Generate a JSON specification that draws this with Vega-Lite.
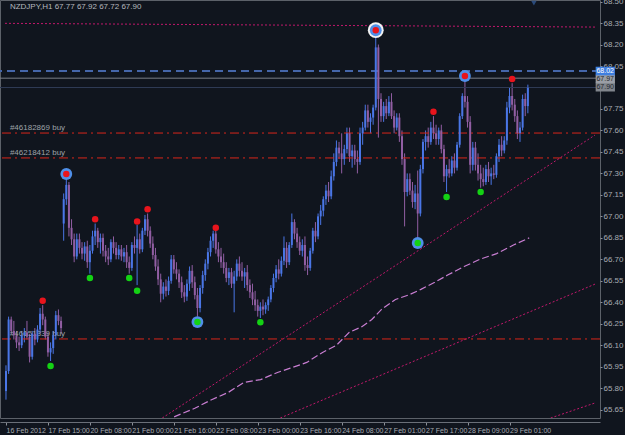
{
"$schema":"https://vega.github.io/schema/vega-lite/v6.json",
"width":600,"height":418,
"autosize":{"type":"none"},
"padding":{"left":0,"top":0,"right":25,"bottom":17},
"background":"#10151e",
"config":{"view":{"stroke":"#5c6169","strokeWidth":1,"fill":"#10151e"},"font":"Liberation Sans","text":{"font":"Liberation Sans"}},
"datasets":{
"bars":[
{"i":0,"o":65.78,"h":65.96,"l":65.72,"c":65.92},{"i":1,"o":65.92,"h":66.30,"l":65.90,"c":66.28},{"i":2,"o":66.28,"h":66.30,"l":66.18,"c":66.20},{"i":3,"o":66.20,"h":66.27,"l":66.14,"c":66.17},{"i":4,"o":66.17,"h":66.20,"l":66.08,"c":66.12},{"i":5,"o":66.12,"h":66.16,"l":66.06,"c":66.10},{"i":6,"o":66.10,"h":66.20,"l":66.08,"c":66.17},{"i":7,"o":66.17,"h":66.22,"l":66.12,"c":66.19},{"i":8,"o":66.19,"h":66.27,"l":66.14,"c":66.16},{"i":9,"o":66.16,"h":66.18,"l":65.98,"c":66.02},
{"i":10,"o":66.02,"h":66.20,"l":66.00,"c":66.18},{"i":11,"o":66.18,"h":66.22,"l":66.10,"c":66.14},{"i":12,"o":66.14,"h":66.24,"l":66.12,"c":66.21},{"i":13,"o":66.21,"h":66.36,"l":66.18,"c":66.32},{"i":14,"o":66.32,"h":66.38,"l":66.24,"c":66.28},{"i":15,"o":66.28,"h":66.30,"l":66.14,"c":66.16},{"i":16,"o":66.16,"h":66.19,"l":66.02,"c":66.05},{"i":17,"o":66.05,"h":66.12,"l":65.99,"c":66.08},{"i":18,"o":66.08,"h":66.20,"l":66.04,"c":66.17},{"i":19,"o":66.17,"h":66.34,"l":66.14,"c":66.31},
{"i":20,"o":66.31,"h":66.35,"l":66.24,"c":66.27},{"i":21,"o":66.27,"h":66.30,"l":66.18,"c":66.22},{"i":22,"o":66.95,"h":67.16,"l":66.83,"c":67.12},{"i":23,"o":67.12,"h":67.27,"l":67.08,"c":67.22},{"i":24,"o":67.22,"h":67.24,"l":66.86,"c":66.92},{"i":25,"o":66.92,"h":66.98,"l":66.80,"c":66.84},{"i":26,"o":66.84,"h":66.88,"l":66.68,"c":66.72},{"i":27,"o":66.72,"h":66.88,"l":66.70,"c":66.84},{"i":28,"o":66.84,"h":66.88,"l":66.74,"c":66.78},{"i":29,"o":66.78,"h":66.82,"l":66.70,"c":66.74},
{"i":30,"o":66.74,"h":66.82,"l":66.69,"c":66.79},{"i":31,"o":66.79,"h":66.83,"l":66.64,"c":66.68},{"i":32,"o":66.68,"h":66.80,"l":66.60,"c":66.76},{"i":33,"o":66.76,"h":66.90,"l":66.74,"c":66.86},{"i":34,"o":66.86,"h":66.95,"l":66.80,"c":66.90},{"i":35,"o":66.90,"h":66.92,"l":66.78,"c":66.82},{"i":36,"o":66.82,"h":66.88,"l":66.74,"c":66.85},{"i":37,"o":66.85,"h":66.88,"l":66.72,"c":66.76},{"i":38,"o":66.76,"h":66.80,"l":66.68,"c":66.72},{"i":39,"o":66.72,"h":66.78,"l":66.66,"c":66.70},
{"i":40,"o":66.70,"h":66.84,"l":66.68,"c":66.82},{"i":41,"o":66.82,"h":66.86,"l":66.74,"c":66.78},{"i":42,"o":66.78,"h":66.82,"l":66.70,"c":66.73},{"i":43,"o":66.73,"h":66.80,"l":66.70,"c":66.77},{"i":44,"o":66.77,"h":66.80,"l":66.69,"c":66.72},{"i":45,"o":66.72,"h":66.78,"l":66.68,"c":66.75},{"i":46,"o":66.75,"h":66.80,"l":66.64,"c":66.68},{"i":47,"o":66.68,"h":66.72,"l":66.60,"c":66.64},{"i":48,"o":66.64,"h":66.82,"l":66.62,"c":66.80},{"i":49,"o":66.80,"h":66.86,"l":66.74,"c":66.78},
{"i":50,"o":66.78,"h":66.94,"l":66.52,"c":66.84},{"i":51,"o":66.84,"h":66.88,"l":66.74,"c":66.77},{"i":52,"o":66.77,"h":66.92,"l":66.75,"c":66.90},{"i":53,"o":66.90,"h":67.01,"l":66.87,"c":66.98},{"i":54,"o":66.98,"h":67.02,"l":66.86,"c":66.90},{"i":55,"o":66.90,"h":66.93,"l":66.78,"c":66.81},{"i":56,"o":66.81,"h":66.86,"l":66.70,"c":66.73},{"i":57,"o":66.73,"h":66.78,"l":66.62,"c":66.65},{"i":58,"o":66.65,"h":66.70,"l":66.52,"c":66.56},{"i":59,"o":66.56,"h":66.60,"l":66.40,"c":66.46},
{"i":60,"o":66.46,"h":66.54,"l":66.42,"c":66.51},{"i":61,"o":66.51,"h":66.56,"l":66.44,"c":66.48},{"i":62,"o":66.48,"h":66.58,"l":66.45,"c":66.55},{"i":63,"o":66.55,"h":66.73,"l":66.53,"c":66.70},{"i":64,"o":66.70,"h":66.73,"l":66.60,"c":66.63},{"i":65,"o":66.63,"h":66.68,"l":66.56,"c":66.60},{"i":66,"o":66.60,"h":66.63,"l":66.50,"c":66.54},{"i":67,"o":66.54,"h":66.58,"l":66.43,"c":66.47},{"i":68,"o":66.47,"h":66.52,"l":66.40,"c":66.44},{"i":69,"o":66.44,"h":66.56,"l":66.41,"c":66.53},
{"i":70,"o":66.53,"h":66.65,"l":66.48,"c":66.62},{"i":71,"o":66.62,"h":66.66,"l":66.50,"c":66.54},{"i":72,"o":66.54,"h":66.58,"l":66.42,"c":66.45},{"i":73,"o":66.45,"h":66.50,"l":66.30,"c":66.36},{"i":74,"o":66.36,"h":66.52,"l":66.33,"c":66.50},{"i":75,"o":66.50,"h":66.62,"l":66.46,"c":66.59},{"i":76,"o":66.59,"h":66.70,"l":66.55,"c":66.67},{"i":77,"o":66.67,"h":66.78,"l":66.63,"c":66.75},{"i":78,"o":66.75,"h":66.86,"l":66.72,"c":66.83},{"i":79,"o":66.83,"h":66.90,"l":66.78,"c":66.88},
{"i":80,"o":66.88,"h":66.91,"l":66.74,"c":66.77},{"i":81,"o":66.77,"h":66.82,"l":66.68,"c":66.72},{"i":82,"o":66.72,"h":66.78,"l":66.64,"c":66.68},{"i":83,"o":66.68,"h":66.74,"l":66.60,"c":66.64},{"i":84,"o":66.64,"h":66.68,"l":66.54,"c":66.57},{"i":85,"o":66.57,"h":66.64,"l":66.52,"c":66.61},{"i":86,"o":66.61,"h":66.64,"l":66.50,"c":66.53},{"i":87,"o":66.53,"h":66.62,"l":66.33,"c":66.58},{"i":88,"o":66.58,"h":66.70,"l":66.55,"c":66.67},{"i":89,"o":66.67,"h":66.72,"l":66.58,"c":66.62},
{"i":90,"o":66.62,"h":66.68,"l":66.55,"c":66.58},{"i":91,"o":66.58,"h":66.64,"l":66.50,"c":66.61},{"i":92,"o":66.61,"h":66.66,"l":66.48,"c":66.52},{"i":93,"o":66.52,"h":66.56,"l":66.43,"c":66.47},{"i":94,"o":66.47,"h":66.53,"l":66.38,"c":66.42},{"i":95,"o":66.42,"h":66.48,"l":66.34,"c":66.38},{"i":96,"o":66.38,"h":66.42,"l":66.30,"c":66.34},{"i":97,"o":66.34,"h":66.40,"l":66.29,"c":66.37},{"i":98,"o":66.37,"h":66.42,"l":66.31,"c":66.35},{"i":99,"o":66.35,"h":66.40,"l":66.32,"c":66.38},
{"i":100,"o":66.38,"h":66.44,"l":66.34,"c":66.42},{"i":101,"o":66.42,"h":66.52,"l":66.40,"c":66.50},{"i":102,"o":66.50,"h":66.60,"l":66.47,"c":66.57},{"i":103,"o":66.57,"h":66.66,"l":66.54,"c":66.63},{"i":104,"o":66.63,"h":66.70,"l":66.56,"c":66.60},{"i":105,"o":66.60,"h":66.72,"l":66.58,"c":66.69},{"i":106,"o":66.69,"h":66.86,"l":66.66,"c":66.78},{"i":107,"o":66.78,"h":66.82,"l":66.64,"c":66.68},{"i":108,"o":66.68,"h":66.82,"l":66.66,"c":66.80},{"i":109,"o":66.80,"h":67.02,"l":66.78,"c":66.96},
{"i":110,"o":66.96,"h":66.98,"l":66.84,"c":66.88},{"i":111,"o":66.88,"h":66.92,"l":66.78,"c":66.82},{"i":112,"o":66.82,"h":66.86,"l":66.73,"c":66.76},{"i":113,"o":66.76,"h":66.84,"l":66.72,"c":66.80},{"i":114,"o":66.80,"h":66.86,"l":66.62,"c":66.66},{"i":115,"o":66.66,"h":66.72,"l":66.59,"c":66.64},{"i":116,"o":66.64,"h":66.78,"l":66.62,"c":66.76},{"i":117,"o":66.76,"h":66.92,"l":66.74,"c":66.90},{"i":118,"o":66.90,"h":66.96,"l":66.82,"c":66.86},{"i":119,"o":66.86,"h":67.02,"l":66.84,"c":67.00},
{"i":120,"o":67.00,"h":67.08,"l":66.94,"c":67.04},{"i":121,"o":67.04,"h":67.14,"l":67.00,"c":67.12},{"i":122,"o":67.12,"h":67.22,"l":67.08,"c":67.18},{"i":123,"o":67.18,"h":67.24,"l":67.10,"c":67.14},{"i":124,"o":67.14,"h":67.32,"l":67.12,"c":67.28},{"i":125,"o":67.28,"h":67.44,"l":67.25,"c":67.38},{"i":126,"o":67.38,"h":67.53,"l":67.35,"c":67.48},{"i":127,"o":67.48,"h":67.52,"l":67.40,"c":67.44},{"i":128,"o":67.44,"h":67.58,"l":67.30,"c":67.40},{"i":129,"o":67.40,"h":67.50,"l":67.36,"c":67.47},
{"i":130,"o":67.47,"h":67.62,"l":67.44,"c":67.58},{"i":131,"o":67.58,"h":67.62,"l":67.38,"c":67.42},{"i":132,"o":67.42,"h":67.50,"l":67.34,"c":67.46},{"i":133,"o":67.46,"h":67.50,"l":67.36,"c":67.40},{"i":134,"o":67.40,"h":67.46,"l":67.30,"c":67.38},{"i":135,"o":67.38,"h":67.62,"l":67.36,"c":67.58},{"i":136,"o":67.58,"h":67.66,"l":67.50,"c":67.62},{"i":137,"o":67.62,"h":67.78,"l":67.60,"c":67.74},{"i":138,"o":67.74,"h":67.78,"l":67.62,"c":67.66},{"i":139,"o":67.66,"h":67.72,"l":67.58,"c":67.69},
{"i":140,"o":67.69,"h":67.78,"l":67.64,"c":67.76},{"i":141,"o":67.76,"h":68.27,"l":67.74,"c":68.18},{"i":142,"o":68.18,"h":68.20,"l":67.55,"c":67.82},{"i":143,"o":67.82,"h":67.86,"l":67.66,"c":67.70},{"i":144,"o":67.70,"h":67.80,"l":67.66,"c":67.77},{"i":145,"o":67.77,"h":67.82,"l":67.68,"c":67.72},{"i":146,"o":67.72,"h":67.84,"l":67.70,"c":67.80},{"i":147,"o":67.80,"h":67.86,"l":67.68,"c":67.70},{"i":148,"o":67.70,"h":67.74,"l":67.58,"c":67.62},{"i":149,"o":67.62,"h":67.72,"l":67.60,"c":67.69},
{"i":150,"o":67.69,"h":67.72,"l":67.52,"c":67.56},{"i":151,"o":67.56,"h":67.60,"l":67.36,"c":67.40},{"i":152,"o":67.40,"h":67.44,"l":66.93,"c":67.17},{"i":153,"o":67.17,"h":67.30,"l":67.14,"c":67.26},{"i":154,"o":67.26,"h":67.30,"l":67.15,"c":67.18},{"i":155,"o":67.18,"h":67.24,"l":67.06,"c":67.10},{"i":156,"o":67.10,"h":67.22,"l":67.05,"c":67.16},{"i":157,"o":67.16,"h":67.32,"l":66.84,"c":67.02},{"i":158,"o":67.02,"h":67.36,"l":67.00,"c":67.33},{"i":159,"o":67.33,"h":67.54,"l":67.30,"c":67.52},
{"i":160,"o":67.52,"h":67.60,"l":67.46,"c":67.56},{"i":161,"o":67.56,"h":67.62,"l":67.48,"c":67.52},{"i":162,"o":67.52,"h":67.66,"l":67.50,"c":67.62},{"i":163,"o":67.62,"h":67.70,"l":67.54,"c":67.58},{"i":164,"o":67.58,"h":67.64,"l":67.50,"c":67.54},{"i":165,"o":67.54,"h":67.62,"l":67.50,"c":67.60},{"i":166,"o":67.60,"h":67.64,"l":67.44,"c":67.47},{"i":167,"o":67.47,"h":67.50,"l":67.24,"c":67.28},{"i":168,"o":67.28,"h":67.36,"l":67.17,"c":67.33},{"i":169,"o":67.33,"h":67.40,"l":67.27,"c":67.30},
{"i":170,"o":67.30,"h":67.42,"l":67.28,"c":67.39},{"i":171,"o":67.39,"h":67.44,"l":67.30,"c":67.34},{"i":172,"o":67.34,"h":67.52,"l":67.32,"c":67.50},{"i":173,"o":67.50,"h":67.72,"l":67.48,"c":67.70},{"i":174,"o":67.70,"h":67.86,"l":67.68,"c":67.84},{"i":175,"o":67.84,"h":67.95,"l":67.76,"c":67.80},{"i":176,"o":67.80,"h":67.84,"l":67.62,"c":67.66},{"i":177,"o":67.66,"h":67.70,"l":67.30,"c":67.36},{"i":178,"o":67.36,"h":67.52,"l":67.32,"c":67.48},{"i":179,"o":67.48,"h":67.52,"l":67.32,"c":67.36},
{"i":180,"o":67.36,"h":67.44,"l":67.25,"c":67.30},{"i":181,"o":67.30,"h":67.36,"l":67.20,"c":67.26},{"i":182,"o":67.26,"h":67.34,"l":67.21,"c":67.24},{"i":183,"o":67.24,"h":67.36,"l":67.22,"c":67.33},{"i":184,"o":67.33,"h":67.38,"l":67.24,"c":67.28},{"i":185,"o":67.28,"h":67.34,"l":67.22,"c":67.30},{"i":186,"o":67.30,"h":67.36,"l":67.26,"c":67.29},{"i":187,"o":67.29,"h":67.44,"l":67.27,"c":67.42},{"i":188,"o":67.42,"h":67.54,"l":67.38,"c":67.50},{"i":189,"o":67.50,"h":67.56,"l":67.42,"c":67.46},
{"i":190,"o":67.46,"h":67.56,"l":67.44,"c":67.53},{"i":191,"o":67.53,"h":67.80,"l":67.50,"c":67.76},{"i":192,"o":67.76,"h":67.90,"l":67.72,"c":67.84},{"i":193,"o":67.84,"h":67.93,"l":67.74,"c":67.78},{"i":194,"o":67.78,"h":67.82,"l":67.66,"c":67.70},{"i":195,"o":67.70,"h":67.74,"l":67.54,"c":67.58},{"i":196,"o":67.58,"h":67.66,"l":67.52,"c":67.62},{"i":197,"o":67.62,"h":67.85,"l":67.60,"c":67.82},{"i":198,"o":67.82,"h":67.86,"l":67.70,"c":67.77},{"i":199,"o":67.77,"h":67.92,"l":67.72,"c":67.90}
],
"trend":[
{"id":"top","i":-0.375,"p":68.348},{"id":"top","i":224.6,"p":68.322},
{"id":"d1","i":59.6,"p":65.592},{"id":"d1","i":224.6,"p":67.568},
{"id":"d2","i":104.6,"p":65.592},{"id":"d2","i":224.6,"p":66.527},
{"id":"d3","i":207.7,"p":65.592},{"id":"d3","i":224.6,"p":65.697}
],
"ma":[
{"i":64.1,"p":65.60},{"i":72.0,"p":65.66},{"i":78.4,"p":65.72},{"i":84.7,"p":65.77},{"i":90.7,"p":65.84},{"i":97.1,"p":65.86},{"i":103.5,"p":65.91},{"i":108.4,"p":65.94},{"i":114.7,"p":65.98},{"i":120.7,"p":66.05},{"i":126.0,"p":66.10},{"i":130.9,"p":66.19},{"i":135.7,"p":66.23},{"i":139.5,"p":66.28},{"i":143.2,"p":66.35},{"i":148.5,"p":66.42},{"i":153.4,"p":66.45},{"i":158.2,"p":66.49},{"i":163.5,"p":66.54},{"i":168.4,"p":66.59},{"i":174.7,"p":66.65},{"i":180.7,"p":66.70},{"i":187.1,"p":66.74},{"i":193.5,"p":66.80},{"i":199.5,"p":66.85}
],
"orders":[
{"p":67.582,"label":"#46182869 buy"},{"p":67.408,"label":"#46218412 buy"},{"p":66.144,"label":"#46151339 buy"}
],
"rings":[
{"i":23,"p":67.296},{"i":73,"p":66.262},{"i":141,"p":68.30},{"i":157,"p":66.814},{"i":175,"p":67.98}
],
"dots":[
{"i":23,"p":67.296,"s":"r"},{"i":73,"p":66.262,"s":"g"},{"i":141,"p":68.30,"s":"r"},{"i":157,"p":66.814,"s":"g"},{"i":175,"p":67.98,"s":"r"},
{"i":14,"p":66.41,"s":"r"},{"i":34,"p":66.98,"s":"r"},{"i":50,"p":66.965,"s":"r"},{"i":54,"p":67.05,"s":"r"},{"i":80,"p":66.92,"s":"r"},{"i":163,"p":67.73,"s":"r"},{"i":193,"p":67.96,"s":"r"},
{"i":17,"p":65.955,"s":"g"},{"i":32,"p":66.57,"s":"g"},{"i":47,"p":66.57,"s":"g"},{"i":50,"p":66.48,"s":"g"},{"i":97,"p":66.26,"s":"g"},{"i":168,"p":67.135,"s":"g"},{"i":181,"p":67.17,"s":"g"}
],
"boxes":[
{"p1":67.935,"p2":67.872,"pc":67.903,"label":"67.90","k":"c"},
{"p1":67.99,"p2":67.93,"pc":67.958,"label":"67.97","k":"b"},
{"p1":68.045,"p2":67.985,"pc":68.015,"label":"68.02","k":"a"}
]
},
"encoding":{
 "x":{"type":"quantitative","scale":{"domain":[-0.375,224.6],"nice":false,"zero":false},
  "axis":{"values":[0,16,32,48,64,80,96,112,128,144,160,176,192],
   "labelExpr":"['16 Feb 2012','17 Feb 15:00','20 Feb 08:00','21 Feb 00:00','21 Feb 16:00','22 Feb 08:00','23 Feb 00:00','23 Feb 16:00','24 Feb 08:00','27 Feb 01:00','27 Feb 17:00','28 Feb 09:00','29 Feb 01:00'][round(datum.value/16)]",
   "labelAlign":"left","labelColor":"#a8acb2","labelFontSize":7,"labelFont":"Liberation Sans","tickColor":"#8a8f96","tickSize":3,"domainColor":"#6a6f78","offset":4,"grid":false,"title":null,"labelPadding":1,"labelFlush":false,"labelOverlap":false,"labelBound":false,"zindex":0}},
 "y":{"type":"quantitative","scale":{"domain":[65.592,68.511],"nice":false,"zero":false},
  "axis":{"orient":"right","values":[65.65,65.8,65.95,66.1,66.25,66.4,66.55,66.7,66.85,67,67.15,67.3,67.45,67.6,67.75,68.05,68.2,68.35,68.5],"format":".2f","labelColor":"#a8acb2","labelFontSize":8,"labelFont":"Liberation Sans","tickSize":2,"tickColor":"#8a8f96","domain":false,"grid":false,"title":null,"labelPadding":1,"labelBound":false,"labelFlush":false,"labelOverlap":false,"zindex":0}}
},
"layer":[
{"data":{"name":"bars"},"mark":{"type":"rule","strokeWidth":1,"clip":true},
 "encoding":{
  "x":{"field":"i"},
  "y":{"field":"l"},
  "y2":{"field":"h"},
  "color":{"condition":{"test":"datum.c >= datum.o","value":"#4a76e6"},"value":"#915ea3"}
 }},
{"data":{"values":[{"p":68.015}]},"mark":{"type":"rule","color":"#4566aa","strokeWidth":2,"strokeDash":[8,5]},
 "encoding":{"y":{"field":"p"}}},
{"data":{"values":[{"p":67.965}]},"mark":{"type":"rule","color":"#7a7f88","strokeWidth":1},
 "encoding":{"y":{"field":"p"}}},
{"data":{"values":[{"p":67.900}]},"mark":{"type":"rule","color":"#2f3b55","strokeWidth":1},
 "encoding":{"y":{"field":"p"}}},
{"data":{"name":"orders"},"mark":{"type":"rule","color":"#d8261a","strokeWidth":1,"strokeDash":[9,4,2,4]},
 "encoding":{"y":{"field":"p"}}},
{"data":{"name":"orders"},"mark":{"type":"text","align":"left","baseline":"bottom","dy":-1,"fontSize":8,"color":"#9ea2a8"},
 "encoding":{"x":{"datum":1.5},"y":{"field":"p"},"text":{"field":"label"}}},
{"data":{"name":"trend"},"mark":{"type":"line","color":"#c2186c","strokeWidth":1,"strokeDash":[2,2],"clip":true},
 "encoding":{"x":{"field":"i"},"y":{"field":"p"},"detail":{"field":"id"}}},
{"data":{"name":"ma"},"mark":{"type":"line","color":"#c97ed2","strokeWidth":1.2,"strokeDash":[7,3],"clip":true},
 "encoding":{"x":{"field":"i"},"y":{"field":"p"}}},
{"data":{"name":"bars"},"mark":{"type":"bar","size":2,"clip":true},
 "encoding":{"x":{"field":"i"},"y":{"field":"o"},"y2":{"field":"c"},
  "color":{"condition":{"test":"datum.c >= datum.o","value":"#4a76e6"},"value":"#915ea3"}}},
{"data":{"values":[{"i":141,"p":68.30}]},"mark":{"type":"point","shape":"circle","filled":true,"size":250,"color":"#f2f2f2","opacity":1},
 "encoding":{"x":{"field":"i"},"y":{"field":"p"}}},
{"data":{"name":"rings"},"mark":{"type":"point","shape":"circle","filled":true,"size":140,"color":"#4f8fe8","opacity":1},
 "encoding":{"x":{"field":"i"},"y":{"field":"p"}}},
{"data":{"name":"dots"},"mark":{"type":"point","shape":"circle","filled":true,"size":42,"opacity":1},
 "encoding":{"x":{"field":"i"},"y":{"field":"p"},
  "color":{"condition":{"test":"datum.s == 'r'","value":"#e8141c"},"value":"#14d214"}}},
{"data":{"values":[{"i":201.3,"p":68.49}]},"mark":{"type":"point","shape":"triangle-down","filled":true,"size":30,"color":"#2a4a7a","opacity":1},
 "encoding":{"x":{"field":"i"},"y":{"field":"p"}}},
{"data":{"values":[{"t":"NZDJPY,H1  67.77 67.92 67.72 67.90"}]},"mark":{"type":"text","align":"left","baseline":"middle","fontSize":8,"color":"#b4b8bd"},
 "encoding":{"x":{"datum":1.5},"y":{"datum":68.462},"text":{"field":"t"}}},
{"data":{"name":"boxes"},"mark":{"type":"rect","clip":false},
 "encoding":{"x":{"datum":224.85},"x2":{"datum":232.2},"y":{"field":"p1"},"y2":{"field":"p2"},
  "color":{"condition":[{"test":"datum.k == 'a'","value":"#3f7fe0"},{"test":"datum.k == 'b'","value":"#9a9ea5"}],"value":"#80858c"}}},
{"data":{"name":"boxes"},"mark":{"type":"text","align":"center","baseline":"middle","fontSize":7,"clip":false},
 "encoding":{"x":{"datum":228.5},"y":{"field":"pc"},"text":{"field":"label"},
  "color":{"condition":{"test":"datum.k == 'a'","value":"#ffffff"},"value":"#23272c"}}}
]
}
